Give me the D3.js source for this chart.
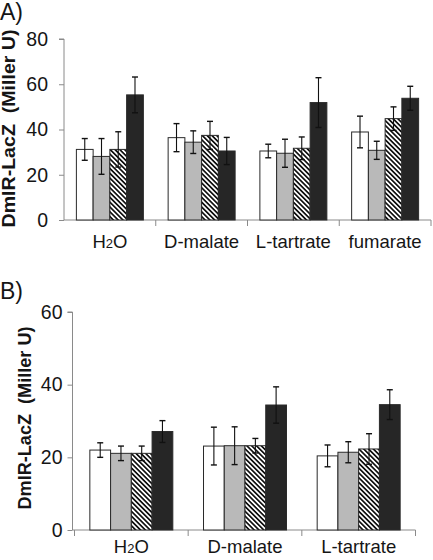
<!DOCTYPE html>
<html>
<head>
<meta charset="utf-8">
<script src="https://cdn.jsdelivr.net/npm/d3@7"></script>
<style>
  html, body { margin: 0; padding: 0; background: #fff; }
  svg { display: block; font-family: "Liberation Sans", Arial, sans-serif; }
</style>
</head>
<body>
<svg id="chart" width="433" height="560"></svg>
<script>
// ---- Data ----
const seriesKeys = ["white", "gray", "hatch", "black"];

const categoriesA = ["H2O", "D-malate", "L-tartrate", "fumarate"];
const whiteA = [31.2, 36.4, 30.5, 38.9];
const grayA  = [28.1, 34.4, 29.5, 30.8];
const hatchA = [31.2, 37.4, 31.7, 44.8];
const blackA = [55.3, 30.5, 51.9, 53.8];
const whiteErrA = [4.8, 6.2, 3.0, 7.0];
const grayErrA  = [7.9, 5.0, 6.2, 4.0];
const hatchErrA = [7.8, 6.2, 5.0, 5.2];
const blackErrA = [7.9, 6.0, 11.0, 5.3];
const ticksA = [0, 20, 40, 60, 80];

const categoriesB = ["H2O", "D-malate", "L-tartrate"];
const whiteB = [22.0, 23.1, 20.4];
const grayB  = [21.1, 23.2, 21.4];
const hatchB = [21.1, 23.2, 22.3];
const blackB = [27.1, 34.4, 34.5];
const whiteErrB = [2.0, 5.2, 3.0];
const grayErrB  = [2.0, 5.2, 2.9];
const hatchErrB = [2.0, 2.0, 4.2];
const blackErrB = [3.0, 5.0, 4.1];
const ticksB = [0, 20, 40, 60];

const yTitle = "DmlR-LacZ  (Miller U)";

// ---- Drawing ----
const svg = d3.select("#chart");
const defs = svg.append("defs");
const pat = defs.append("pattern")
  .attr("id", "hatch")
  .attr("patternUnits", "userSpaceOnUse")
  .attr("width", 3.4).attr("height", 3.4)
  .attr("patternTransform", "rotate(-45)");
pat.append("rect").attr("width", 3.4).attr("height", 3.4).attr("fill", "#fff");
pat.append("line").attr("x1", 1.7).attr("y1", 0).attr("x2", 1.7).attr("y2", 3.4)
  .attr("stroke", "#111").attr("stroke-width", 1.7);

const fills = { white: "#ffffff", gray: "#b9b9b9", hatch: "url(#hatch)", black: "#262626" };
const axisColor = "#8a8a8a";
const textColor = "#151515";

function panel(opt) {
  const g = svg.append("g");
  const x0 = d3.scaleBand().domain(opt.categories).range([opt.x0, opt.x1]).paddingInner(0).paddingOuter(0);
  const bw = x0.bandwidth();
  const x1 = d3.scaleBand().domain(seriesKeys).range([bw * 0.135, bw * 0.865]).padding(0);
  const y = d3.scaleLinear().domain([0, opt.ymax]).range([opt.yBottom, opt.yTop]);

  const rows = opt.categories.map((c, i) => ({
    cat: c,
    vals: seriesKeys.map(k => ({ key: k, v: opt.values[k][i], e: opt.errors[k][i] }))
  }));

  // Y axis
  const yAxis = g.append("g").attr("transform", `translate(${opt.axisX},0)`)
    .call(d3.axisLeft(y).tickValues(opt.ticks).tickSize(5).tickPadding(opt.tickPad).tickFormat(d3.format("d")));
  yAxis.select(".domain").attr("stroke", axisColor).attr("d", `M-5,${y(opt.ymax)}H0V${y(0)}`);
  yAxis.selectAll(".tick line").attr("stroke", axisColor);
  yAxis.selectAll(".tick text").attr("font-size", 19.5).attr("fill", textColor)
    .attr("font-family", "'Liberation Sans', Arial, sans-serif");

  // X axis baseline + separators
  const xAxis = g.append("g").attr("transform", `translate(0,${y(0)})`);
  xAxis.append("line").attr("x1", opt.axisX).attr("x2", opt.x1).attr("y1", 0).attr("y2", 0).attr("stroke", axisColor);
  const seps = opt.categories.map(c => x0(c) + bw);
  if (opt.axisX < opt.x0 - 0.5) seps.unshift(opt.x0);
  xAxis.selectAll("line.sep").data(seps).join("line").attr("class", "sep")
    .attr("x1", d => d).attr("x2", d => d).attr("y1", 0).attr("y2", 6).attr("stroke", axisColor);

  // Category labels
  const labels = g.selectAll("text.cat").data(opt.categories).join("text").attr("class", "cat")
    .attr("x", d => x0(d) + bw / 2).attr("y", opt.labelY)
    .attr("text-anchor", "middle").attr("font-size", 18.5).attr("fill", textColor);
  labels.each(function (d) {
    const t = d3.select(this);
    if (d === "H2O") {
      t.append("tspan").text("H");
      t.append("tspan").attr("font-size", 13).text("2");
      t.append("tspan").text("O");
    } else {
      t.text(d);
    }
  });

  // Bars
  const grp = g.selectAll("g.grp").data(rows).join("g").attr("class", "grp")
    .attr("transform", d => `translate(${x0(d.cat)},0)`);
  grp.selectAll("rect").data(d => d.vals).join("rect")
    .attr("x", d => x1(d.key)).attr("width", x1.bandwidth())
    .attr("y", d => y(d.v)).attr("height", d => y(0) - y(d.v))
    .attr("fill", d => fills[d.key]).attr("stroke", "#2a2a2a").attr("stroke-width", 1);

  // Error bars
  const eb = grp.selectAll("g.eb").data(d => d.vals).join("g").attr("class", "eb");
  const cx = d => x1(d.key) + x1.bandwidth() / 2;
  eb.append("line").attr("x1", cx).attr("x2", cx)
    .attr("y1", d => y(d.v + d.e)).attr("y2", d => y(d.v - d.e))
    .attr("stroke", "#111").attr("stroke-width", 1.1);
  eb.append("line").attr("x1", d => cx(d) - 3).attr("x2", d => cx(d) + 3)
    .attr("y1", d => y(d.v + d.e)).attr("y2", d => y(d.v + d.e))
    .attr("stroke", "#111").attr("stroke-width", 1.4);
  eb.append("line").attr("x1", d => cx(d) - 3).attr("x2", d => cx(d) + 3)
    .attr("y1", d => y(d.v - d.e)).attr("y2", d => y(d.v - d.e))
    .attr("stroke", "#111").attr("stroke-width", 1.4);

  // Y title
  const cy = (y(0) + y(opt.ymax)) / 2 + opt.titleShift;
  g.append("text")
    .attr("transform", `translate(${opt.titleX},${cy}) rotate(-90)`)
    .attr("text-anchor", "middle")
    .attr("font-size", 18).attr("font-weight", "bold").attr("fill", textColor)
    .attr("textLength", opt.titleLen).attr("lengthAdjust", "spacingAndGlyphs")
    .style("white-space", "pre")
    .text(yTitle);

  // Panel letter
  g.append("text").attr("x", 0).attr("y", opt.letterY)
    .attr("font-size", 23).attr("fill", textColor).text(opt.letter);
}

panel({
  letter: "A)", letterY: 20,
  categories: categoriesA,
  values: { white: whiteA, gray: grayA, hatch: hatchA, black: blackA },
  errors: { white: whiteErrA, gray: grayErrA, hatch: hatchErrA, black: blackErrA },
  ticks: ticksA, ymax: 80,
  x0: 64, x1: 431, axisX: 64,
  yTop: 39, yBottom: 220, tickPad: 11,
  labelY: 248, titleX: 15, titleShift: -1, titleLen: 198
});

panel({
  letter: "B)", letterY: 299,
  categories: categoriesB,
  values: { white: whiteB, gray: grayB, hatch: hatchB, black: blackB },
  errors: { white: whiteErrB, gray: grayErrB, hatch: hatchErrB, black: blackErrB },
  ticks: ticksB, ymax: 60,
  x0: 74.5, x1: 415.5, axisX: 72.5,
  yTop: 312, yBottom: 530, tickPad: 5,
  labelY: 553, titleX: 31, titleShift: -3, titleLen: 183
});
</script>
</body>
</html>
